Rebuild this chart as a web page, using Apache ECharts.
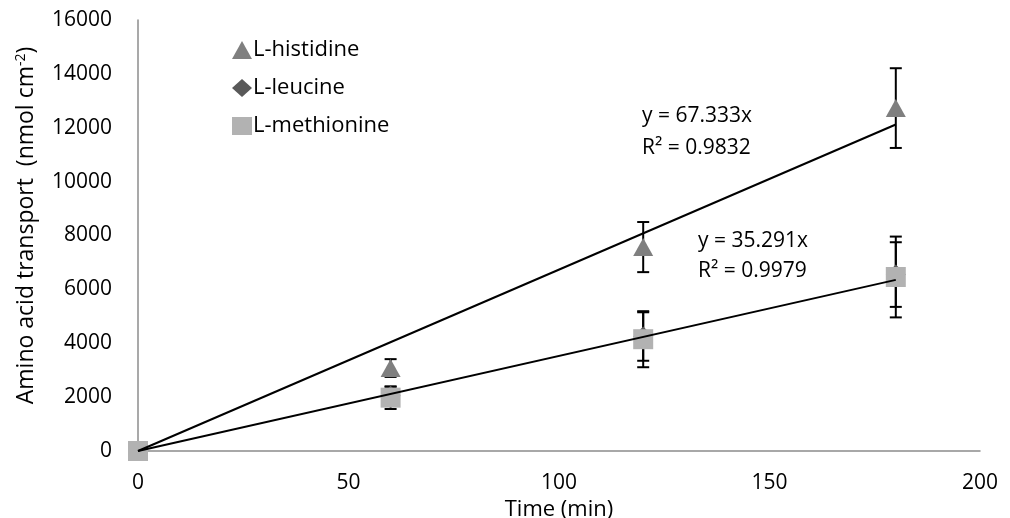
<!DOCTYPE html>
<html>
<head>
<meta charset="utf-8">
<script src="https://cdn.jsdelivr.net/npm/echarts@6/dist/echarts.min.js"></script>
<style>
  html, body { margin: 0; padding: 0; background: #fff; }
  #main { width: 1010px; height: 518px; }
</style>
</head>
<body>
<div id="main"></div>
<script>
// time points (min)
var times = [0, 60, 120, 180];
// mean transport values and error (nmol cm-2)
var histidine = [0, 3080, 7570, 12730];
var histidineErr = [0, 330, 930, 1480];
var leucine = [0, 2050, 4250, 6550];
var leucineErr = [0, 330, 900, 1200];
var methionine = [0, 1980, 4150, 6460];
var methionineErr = [0, 420, 1040, 1500];
// linear trend lines (forced through origin)
var trendHist = [[0, 0], [180, 12120]];
var trendMeth = [[0, 0], [180, 6352]];
var xTicks = [0, 50, 100, 150, 200];
var yTicks = [0, 2000, 4000, 6000, 8000, 10000, 12000, 14000, 16000];

var FONT = 'Open Sans';

function pts(ys) {
  return times.map(function (t, i) { return [t, ys[i]]; });
}
function errData(ys, es) {
  return times.map(function (t, i) { return [t, ys[i] - es[i], ys[i] + es[i]]; });
}

function errorBars(params, api) {
  var x = api.value(0);
  var lo = api.coord([x, api.value(1)]);
  var hi = api.coord([x, api.value(2)]);
  if (Math.abs(lo[1] - hi[1]) < 1) return null;
  var w = 6;
  var st = { stroke: '#000', lineWidth: 2 };
  return {
    type: 'group',
    children: [
      { type: 'line', shape: { x1: hi[0], y1: hi[1], x2: lo[0], y2: lo[1] }, style: st },
      { type: 'line', shape: { x1: hi[0] - w, y1: hi[1], x2: hi[0] + w, y2: hi[1] }, style: st },
      { type: 'line', shape: { x1: lo[0] - w, y1: lo[1], x2: lo[0] + w, y2: lo[1] }, style: st }
    ]
  };
}

var chart = echarts.init(document.getElementById('main'));
var option = {
  animation: false,
  backgroundColor: '#fff',
  textStyle: { fontFamily: FONT },
  grid: { left: 138, right: 30, top: 20, bottom: 67, containLabel: false, outerBoundsMode: 'none' },
  legend: {
    orient: 'vertical',
    left: 227,
    top: 34,
    itemGap: 16,
    itemWidth: 20,
    itemHeight: 18,
    textStyle: { fontFamily: FONT, fontSize: 22, color: '#000', padding: [0, 0, 0, -4] },
    data: ['L-histidine', 'L-leucine', 'L-methionine']
  },
  xAxis: {
    type: 'value',
    min: 0, max: 200, interval: 50,
    name: 'Time (min)',
    nameLocation: 'middle',
    nameGap: 42,
    nameTextStyle: { fontFamily: FONT, fontSize: 22, color: '#000' },
    axisLine: { onZero: false, lineStyle: { color: '#8c8c8c', width: 1.5 } },
    axisTick: { show: false },
    splitLine: { show: false },
    axisLabel: { fontFamily: FONT, fontSize: 21, color: '#000', margin: 22 }
  },
  yAxis: {
    type: 'value',
    min: 0, max: 16000, interval: 2000,
    name: '{n|Amino acid transport  (nmol cm}{s|-2}{n|)}',
    nameLocation: 'middle',
    nameGap: 100,
    nameTextStyle: {
      padding: [0, 0, 0, 20],
      rich: {
        n: { fontFamily: FONT, fontSize: 23, color: '#000' },
        s: { fontFamily: FONT, fontSize: 14, color: '#000', verticalAlign: 'top', padding: [0, 0, 10, 0] }
      }
    },
    axisLine: { show: true, lineStyle: { color: '#8c8c8c', width: 1.5 } },
    axisTick: { show: false },
    splitLine: { show: false },
    axisLabel: {
      fontFamily: FONT, fontSize: 21, color: '#000', margin: 26,
      formatter: function (v) { return String(v); }
    }
  },
  series: [
    { name: 'hisErr', type: 'custom', renderItem: errorBars, data: errData(histidine, histidineErr), z: 1 },
    { name: 'leuErr', type: 'custom', renderItem: errorBars, data: errData(leucine, leucineErr), z: 1 },
    { name: 'metErr', type: 'custom', renderItem: errorBars, data: errData(methionine, methionineErr), z: 1 },
    {
      name: 'L-histidine', type: 'scatter', data: pts(histidine),
      symbol: 'triangle', symbolSize: [20, 18],
      itemStyle: { color: '#7f7f7f', opacity: 1 }, z: 3
    },
    {
      name: 'L-leucine', type: 'scatter', data: pts(leucine),
      symbol: 'diamond', symbolSize: [20, 20],
      itemStyle: { color: '#595959', opacity: 1 }, z: 3
    },
    {
      name: 'L-methionine', type: 'scatter', data: pts(methionine),
      symbol: 'rect', symbolSize: [20, 20],
      itemStyle: { color: '#b2b2b2', opacity: 1 }, z: 4
    },
    {
      name: 'trendHist', type: 'line', data: trendHist, symbol: 'none',
      lineStyle: { color: '#000', width: 2 }, z: 5, silent: true
    },
    {
      name: 'trendMeth', type: 'line', data: trendMeth, symbol: 'none',
      lineStyle: { color: '#000', width: 2 }, z: 5, silent: true
    }
  ],
  graphic: [
    { type: 'text', left: 642, top: 106, style: { text: 'y = 67.333x', font: '21px "Open Sans"', fill: '#000' } },
    { type: 'text', left: 642, top: 138, style: { text: 'R\u00b2 = 0.9832', font: '21px "Open Sans"', fill: '#000' } },
    { type: 'text', left: 698, top: 231, style: { text: 'y = 35.291x', font: '21px "Open Sans"', fill: '#000' } },
    { type: 'text', left: 698, top: 261, style: { text: 'R\u00b2 = 0.9979', font: '21px "Open Sans"', fill: '#000' } }
  ]
};
chart.setOption(option);
</script>
</body>
</html>
